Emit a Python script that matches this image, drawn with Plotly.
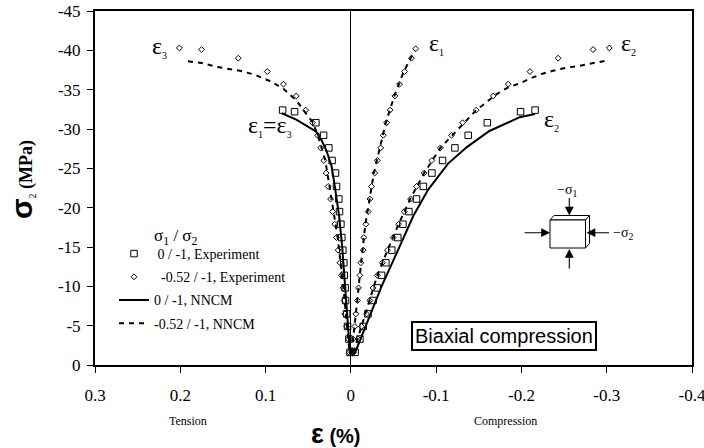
import plotly.graph_objects as go

# ---------------- data ----------------
# Experiment, sigma1/sigma2 = 0/-1
sig_sq = [-1.6, -3.3, -4.9, -6.5, -8.2, -9.8, -11.4, -13.0, -14.6, -16.2, -17.9,
          -19.5, -21.1, -22.7, -24.4, -26.0, -27.6, -29.2, -30.8, -32.2, -32.4]
eps13_sq = [0.001, 0.0023, 0.0039, 0.005, 0.0062, 0.0067, 0.0078, 0.0082, 0.0094, 0.0106, 0.0117,
            0.0133, 0.0141, 0.0168, 0.018, 0.022, 0.0258, 0.032, 0.041, 0.066, 0.080]
eps2_sq = [-0.005, -0.0106, -0.0145, -0.020, -0.026, -0.031, -0.036, -0.041, -0.048, -0.055, -0.061,
           -0.068, -0.077, -0.085, -0.095, -0.1075, -0.122, -0.1376, -0.160, -0.199, -0.216]

# Experiment, sigma1/sigma2 = -0.52/-1
sig_d = [-1.6, -3.3, -4.9, -6.5, -8.2, -9.8, -11.4, -13.0, -14.6, -16.2, -17.9, -19.5, -21.1,
         -22.7, -24.4, -26.0, -27.6, -29.2, -30.8, -32.4, -34.2, -35.7, -37.3, -39.0, -40.1, -40.3]
eps3_d = [0.002, 0.003, 0.005, 0.007, 0.0078, 0.009, 0.011, 0.0129, 0.0149, 0.0168, 0.0188, 0.0215, 0.0238,
          0.0266, 0.029, 0.0317, 0.0355, 0.039, 0.045, 0.053, 0.064, 0.079, 0.098, 0.132, 0.175, 0.201]
eps2_d = [-0.003, -0.0086, -0.0125, -0.0184, -0.0223, -0.026, -0.031, -0.037, -0.043, -0.0496, -0.056,
          -0.0625, -0.070, -0.077, -0.086, -0.095, -0.105, -0.118, -0.131, -0.147, -0.167, -0.1845,
          -0.210, -0.243, -0.284, -0.303]
sig_d1 = [-1.6, -3.3, -4.9, -6.5, -8.2, -9.8, -11.4, -13.0, -14.6, -16.2, -17.9, -19.5, -21.1,
          -22.7, -24.4, -26.0, -27.6, -29.2, -30.8, -32.4, -34.2, -35.7, -37.3, -39.0, -40.2]
eps1_d = [-0.001, -0.0027, -0.0047, -0.0059, -0.0078, -0.009, -0.0106, -0.0117, -0.0145, -0.0152,
          -0.0176, -0.0203, -0.0223, -0.0242, -0.028, -0.031, -0.035, -0.038, -0.042, -0.046,
          -0.0516, -0.057, -0.063, -0.071, -0.076]

# NNCM, 0/-1
nn0_sig_13 = [-32.0, -31.2, -29.7, -28.5, -27.2, -25.3, -22.7, -18.9, -15.1, -11.3, -7.4, -3.6, -1.5]
nn0_eps_13 = [0.081, 0.064, 0.041, 0.034, 0.0285, 0.0226, 0.0188, 0.0137, 0.0102, 0.0078, 0.005, 0.003, 0.001]
nn0_sig_2 = [-1.5, -5.3, -10.0, -14.2, -18.9, -22.3, -25.6, -27.7, -29.75, -31.5, -31.9]
nn0_eps_2 = [-0.0047, -0.0184, -0.036, -0.0536, -0.073, -0.0907, -0.114, -0.136, -0.1625, -0.198, -0.216]

# NNCM, -0.52/-1
nn52_sig_3 = [-38.6, -38.4, -37.9, -37.4, -36.9, -36.1, -35.1, -33.6, -31.9, -30.9, -29.3, -27.6,
              -26.0, -22.7, -19.5, -16.2, -13.0, -9.8, -6.6, -3.4, -1.6]
nn52_eps_3 = [0.191, 0.175, 0.1575, 0.130, 0.1126, 0.095, 0.079, 0.0637, 0.052, 0.045, 0.039, 0.034,
              0.030, 0.025, 0.020, 0.0155, 0.012, 0.0085, 0.006, 0.003, 0.0015]
nn52_sig_1 = [-1.6, -4.9, -8.2, -11.4, -14.6, -17.9, -21.1, -24.4, -27.6, -30.8, -34.2, -37.3, -40.0]
nn52_eps_1 = [-0.001, -0.0045, -0.0075, -0.0105, -0.0135, -0.017, -0.022, -0.027, -0.034, -0.041,
              -0.051, -0.062, -0.075]
nn52_sig_2 = [-1.6, -4.9, -8.2, -11.4, -14.6, -17.9, -21.2, -24.4, -27.6, -29.1, -30.8, -32.4, -33.4,
              -34.3, -35.3, -35.8, -36.4, -37.0, -37.4, -37.8, -38.05, -38.4, -38.7]
nn52_eps_2 = [-0.003, -0.0125, -0.022, -0.031, -0.043, -0.056, -0.070, -0.086, -0.105, -0.118, -0.132,
              -0.147, -0.159, -0.169, -0.1845, -0.198, -0.210, -0.2237, -0.237, -0.253, -0.2686,
              -0.284, -0.300]

x_ticks = [0.3, 0.2, 0.1, 0, -0.1, -0.2, -0.3, -0.4]
y_ticks = [0, -5, -10, -15, -20, -25, -30, -35, -40, -45]

# ---------------- layout helpers ----------------
W, H = 704, 448
L, R, T, B = 95, 692, 11, 365
PW, PH = R - L, B - T


def px(xp):
    return (xp - L) / PW


def py(yp):
    return (B - yp) / PH


SERIF = "Liberation Serif, Times New Roman, serif"
SANS = "Liberation Sans, Arial, sans-serif"

fig = go.Figure()

fig.add_trace(go.Scatter(
    x=eps13_sq + eps2_sq, y=sig_sq + sig_sq, mode="markers",
    name=" 0 / -1, Experiment", legendgroup="a",
    marker=dict(symbol="square-open", size=6.5, color="black", line=dict(width=1, color="black"))))

fig.add_trace(go.Scatter(
    x=eps3_d + eps1_d + eps2_d, y=sig_d + sig_d1 + sig_d, mode="markers",
    name="  -0.52 / -1, Experiment", legendgroup="b",
    marker=dict(symbol="diamond-open", size=4.5, color="black", line=dict(width=1, color="black"))))

fig.add_trace(go.Scatter(
    x=nn0_eps_13 + nn0_eps_2, y=nn0_sig_13 + nn0_sig_2, mode="lines",
    name="0 / -1, NNCM", legendgroup="c",
    line=dict(color="black", width=2)))

fig.add_trace(go.Scatter(
    x=nn52_eps_3 + [None] + nn52_eps_1 + [None] + nn52_eps_2,
    y=nn52_sig_3 + [None] + nn52_sig_1 + [None] + nn52_sig_2,
    mode="lines", connectgaps=False,
    name="-0.52 / -1, NNCM", legendgroup="d",
    line=dict(color="black", width=2, dash="5px,5px")))

# ---------------- annotations ----------------
ann = []


def eps_label(sub, xp, yp):
    ann.append(dict(xref="paper", yref="paper", x=px(xp), y=py(yp), showarrow=False,
                    xanchor="left", yanchor="middle",
                    text="ε<sub><span style='font-size:10px'>%s</span></sub>" % sub,
                    font=dict(family=SERIF, size=24, color="black")))


eps_label("3", 150, 47)
eps_label("1", 427, 44)
eps_label("2", 619, 44)
eps_label("2", 542, 120)
ann.append(dict(xref="paper", yref="paper", x=px(246), y=py(126), showarrow=False,
                xanchor="left", yanchor="middle",
                text="ε<sub><span style='font-size:10px'>1</span></sub>=ε<sub><span style='font-size:10px'>3</span></sub>",
                font=dict(family=SERIF, size=24, color="black")))

# legend title
ann.append(dict(xref="paper", yref="paper", x=px(152), y=py(237), showarrow=False,
                xanchor="left", yanchor="middle",
                text="σ<sub>1</sub> / σ<sub>2</sub>",
                font=dict(family=SERIF, size=17, color="black")))

# Biaxial compression box
ann.append(dict(xref="paper", yref="paper", x=px(504), y=py(336), showarrow=False,
                xanchor="center", yanchor="middle", text="Biaxial compression",
                font=dict(family=SANS, size=20, color="black"),
                bordercolor="black", borderwidth=2, borderpad=2, bgcolor="white"))

# axis titles & side labels
ann.append(dict(xref="paper", yref="paper", x=px(336), y=py(434), showarrow=False,
                xanchor="center", yanchor="middle",
                text="<b><span style='font-size:27px'>ε</span> (%)</b>",
                font=dict(family=SANS, size=20, color="black")))
ann.append(dict(xref="paper", yref="paper", x=px(21), y=py(180), showarrow=False,
                xanchor="center", yanchor="middle", textangle=-90,
                text="<span style='font-family:Liberation Sans;font-size:30px;font-weight:bold'>σ</span>"
                     "<sub><span style='font-size:10px'>2</span></sub><b> (MPa)</b>",
                font=dict(family=SERIF, size=18, color="black")))
ann.append(dict(xref="paper", yref="paper", x=px(188), y=py(421), showarrow=False,
                xanchor="center", yanchor="middle", text="Tension",
                font=dict(family=SERIF, size=12, color="black")))
ann.append(dict(xref="paper", yref="paper", x=px(505), y=py(421), showarrow=False,
                xanchor="center", yanchor="middle", text="Compression",
                font=dict(family=SERIF, size=12, color="black")))

# cube arrows and labels
for tip, d in [((550, 232.7), (-27, 0)), ((586.5, 232.7), (24, 0)),
               ((569.3, 215.5), (0, -19)), ((569.3, 249.0), (0, 21))]:
    ann.append(dict(xref="paper", yref="paper", x=px(tip[0]), y=py(tip[1]), ax=d[0], ay=d[1],
                    text="", showarrow=True, arrowhead=2, arrowsize=1.6, arrowwidth=1.1,
                    arrowcolor="black", standoff=0))
ann.append(dict(xref="paper", yref="paper", x=px(567), y=py(190), showarrow=False,
                xanchor="center", yanchor="middle", text="−σ<sub>1</sub>",
                font=dict(family=SERIF, size=14, color="black")))
ann.append(dict(xref="paper", yref="paper", x=px(611), y=py(233), showarrow=False,
                xanchor="left", yanchor="middle", text="−σ<sub>2</sub>",
                font=dict(family=SERIF, size=14, color="black")))


def path(points):
    s = "M %f %f" % (px(points[0][0]), py(points[0][1]))
    for p in points[1:]:
        s += " L %f %f" % (px(p[0]), py(p[1]))
    return s + " Z"


shapes = [
    dict(type="path", xref="paper", yref="paper", fillcolor="white", line=dict(color="black", width=1),
         path=path([(550, 220), (554, 215.5), (589.5, 215.5), (585.5, 220)])),
    dict(type="path", xref="paper", yref="paper", fillcolor="white", line=dict(color="black", width=1),
         path=path([(585.5, 220), (589.5, 215.5), (589.5, 243.5), (585.5, 248)])),
    dict(type="path", xref="paper", yref="paper", fillcolor="white", line=dict(color="black", width=1),
         path=path([(550, 220), (585.5, 220), (585.5, 248), (550, 248)])),
]

fig.update_layout(
    width=W, height=H,
    margin=dict(l=L, r=W - R, t=T, b=H - B, autoexpand=False),
    paper_bgcolor="white", plot_bgcolor="white",
    font=dict(family=SERIF, color="black"),
    showlegend=True,
    legend=dict(x=px(114), y=py(238), xanchor="left", yanchor="top",
                bgcolor="rgba(0,0,0,0)", font=dict(family=SERIF, size=14, color="black"),
                tracegroupgap=2, itemsizing="trace"),
    annotations=ann, shapes=shapes,
    xaxis=dict(range=[0.3, -0.4], tickvals=x_ticks, ticktext=[str(v) for v in x_ticks],
               showgrid=False, zeroline=True, zerolinecolor="black", zerolinewidth=1,
               showline=True, linecolor="black", linewidth=2, mirror=True,
               ticks="outside", ticklen=6, tickwidth=1, tickcolor="black",
               ticklabelstandoff=8, ticklabeloverflow="allow", automargin=False,
               tickfont=dict(family=SERIF, size=17, color="black")),
    yaxis=dict(range=[0, -45], tickvals=y_ticks, ticktext=[str(v) for v in y_ticks],
               showgrid=False, zeroline=False,
               showline=True, linecolor="black", linewidth=2, mirror=True,
               ticks="outside", ticklen=6, tickwidth=1, tickcolor="black",
               ticklabelstandoff=3, ticklabeloverflow="allow", automargin=False,
               tickfont=dict(family=SERIF, size=17, color="black")),
)

fig.write_html("out.html")
